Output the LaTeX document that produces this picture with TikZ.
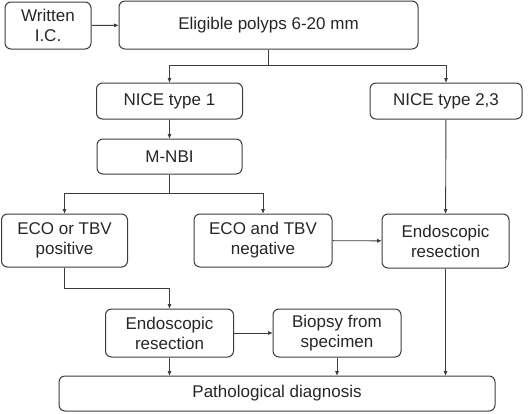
\documentclass[tikz,border=0pt]{standalone}
\usepackage{fontspec}
\setmainfont{Liberation Sans}
\usetikzlibrary{arrows.meta}
\definecolor{ln}{HTML}{3C3C3C}
\definecolor{tx}{HTML}{262626}
\begin{document}
\begin{tikzpicture}[x=1pt,y=-1pt,
  box/.style={draw=ln,line width=1pt,rounded corners=6pt,inner sep=0pt,align=center,
    text=tx,font=\fontsize{17}{20}\selectfont},
  conn/.style={draw=ln,line width=0.9pt},
  arr/.style={conn,-{Triangle[length=4.5pt,width=3.5pt]}}]
\useasboundingbox (0,0) rectangle (530,413);
\node[box,minimum width=86pt,minimum height=47pt] (wic) at (48,25.5) {Written\\I.C.};
\node[box,minimum width=299pt,minimum height=48pt] (elig) at (268.5,25) {Eligible polyps 6-20 mm};
\node[box,minimum width=146pt,minimum height=36pt] (n1) at (169.5,101) {NICE type 1};
\node[box,minimum width=152pt,minimum height=36pt] (n23) at (446,101) {NICE type 2,3};
\node[box,minimum width=145pt,minimum height=35pt] (mnbi) at (169.5,156.5) {M-NBI};
\node[box,minimum width=126pt,minimum height=53pt] (pos) at (64.5,240.5) {ECO or TBV\\positive};
\node[box,minimum width=138pt,minimum height=53pt] (neg) at (263,240.5) {ECO and TBV\\negative};
\node[box,minimum width=127pt,minimum height=54pt] (endr) at (445.5,241) {Endoscopic\\resection};
\node[box,minimum width=128pt,minimum height=48pt] (endl) at (169.5,333) {Endoscopic\\resection};
\node[box,minimum width=128pt,minimum height=48pt] (bio) at (337,333) {Biopsy from\\specimen};
\node[box,minimum width=436pt,minimum height=35pt] (path) at (277,393.5) {Pathological diagnosis};
\coordinate (j1) at (elig.south |- 0,65);
\coordinate (j2) at (mnbi.south |- 0,193);
\coordinate (j3) at (pos.south |- 0,288);
\draw[arr] (wic) -- (elig);
\draw[conn] (elig.south) -- (j1);
\draw[arr] (j1) -| (n1.north);
\draw[arr] (j1) -| (n23.north);
\draw[arr] (n1) -- (mnbi);
\draw[conn] (mnbi.south) -- (j2);
\draw[arr] (j2) -| (pos.north);
\draw[arr] (j2) -| (neg.north);
\draw[arr] (neg) -- (endr);
\draw[arr] (n23) -- (endr);
\draw[arr] (pos.south) -- (j3) -| (endl.north);
\draw[arr] (endl) -- (bio);
\draw[arr] (endl.south) -- (endl.south |- path.north);
\draw[arr] (bio.south) -- (bio.south |- path.north);
\draw[arr] (endr.south) -- (endr.south |- path.north);
\end{tikzpicture}
\end{document}
